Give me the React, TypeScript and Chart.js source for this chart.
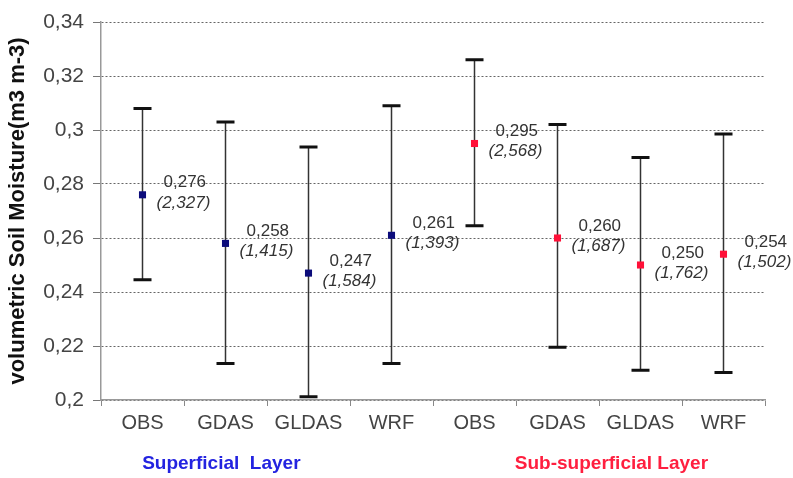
import React, { useEffect, useRef } from "react";
import { Chart, registerables } from "chart.js";

Chart.register(...registerables);

const categories = ["OBS", "GDAS", "GLDAS", "WRF", "OBS", "GDAS", "GLDAS", "WRF"];
const meanValues = [0.276, 0.258, 0.247, 0.261, 0.295, 0.26, 0.25, 0.254];
const upperValues = [0.308, 0.303, 0.2937, 0.309, 0.326, 0.302, 0.2898, 0.2985];
const lowerValues = [0.2445, 0.2135, 0.2012, 0.2135, 0.2645, 0.2195, 0.211, 0.2102];
const valueLabels = ["0,276", "0,258", "0,247", "0,261", "0,295", "0,260", "0,250", "0,254"];
const countLabels = ["(2,327)", "(1,415)", "(1,584)", "(1,393)", "(2,568)", "(1,687)", "(1,762)", "(1,502)"];
const layerOfCategory = [0, 0, 0, 0, 1, 1, 1, 1];
const layerNames = ["Superficial  Layer", "Sub-superficial Layer"];
const layerAnchor = [0.95, 5.65];
const layerColors = ["#2323e0", "#ff1f3f"];
const pointColors = ["#0b0b7a", "#ff1038"];
const yTickValues = [0.2, 0.22, 0.24, 0.26, 0.28, 0.3, 0.32, 0.34];
const yTitle = "volumetric Soil Moisture(m3 m-3)";

const FONT = "'Liberation Sans', Arial, sans-serif";

const fmtTick = (v: number) => String(Number(v.toFixed(2))).replace(".", ",");

const errorBarPlugin = {
  id: "errorBars",
  beforeDatasetsDraw(chart: any) {
    const { ctx, scales } = chart;
    const x = scales.x;
    const y = scales.y;
    ctx.save();
    categories.forEach((_, i) => {
      const px = x.getPixelForValue(i);
      const top = y.getPixelForValue(upperValues[i]);
      const bot = y.getPixelForValue(lowerValues[i]);
      ctx.strokeStyle = "#333";
      ctx.lineWidth = 1.5;
      ctx.beginPath();
      ctx.moveTo(px, top);
      ctx.lineTo(px, bot);
      ctx.stroke();
      ctx.strokeStyle = "#111";
      ctx.lineWidth = 3;
      ctx.beginPath();
      ctx.moveTo(px - 9, top);
      ctx.lineTo(px + 9, top);
      ctx.moveTo(px - 9, bot);
      ctx.lineTo(px + 9, bot);
      ctx.stroke();
    });
    ctx.restore();
  },
  afterDatasetsDraw(chart: any) {
    const { ctx, scales } = chart;
    const x = scales.x;
    const y = scales.y;
    ctx.save();
    ctx.textBaseline = "middle";
    ctx.textAlign = "left";
    categories.forEach((_, i) => {
      const px = x.getPixelForValue(i);
      const py = y.getPixelForValue(meanValues[i]);
      ctx.fillStyle = "#333";
      ctx.font = `17px ${FONT}`;
      ctx.fillText(valueLabels[i], px + 21, py - 12);
      ctx.font = `italic 17px ${FONT}`;
      ctx.fillText(countLabels[i], px + 14, py + 8);
    });
    ctx.restore();
  },
  afterDraw(chart: any) {
    const { ctx, scales, chartArea } = chart;
    const x = scales.x;
    ctx.save();
    ctx.textBaseline = "middle";
    ctx.textAlign = "center";
    ctx.font = `bold 19px ${FONT}`;
    layerNames.forEach((name, g) => {
      ctx.fillStyle = layerColors[g];
      ctx.fillText(name, x.getPixelForValue(layerAnchor[g]), chartArea.bottom + 64);
    });
    ctx.restore();
  },
};

export default function App() {
  const ref = useRef<HTMLCanvasElement>(null);
  useEffect(() => {
    document.body.style.margin = "0";
    if (!ref.current) return;
    const chart = new Chart(ref.current, {
      type: "line",
      data: {
        labels: categories,
        datasets: [
          {
            data: meanValues,
            showLine: false,
            pointStyle: "rect",
            pointRadius: 5,
            pointBorderWidth: 0,
            pointBackgroundColor: layerOfCategory.map((g) => pointColors[g]),
            pointBorderColor: layerOfCategory.map((g) => pointColors[g]),
          },
        ],
      },
      options: {
        responsive: false,
        animation: false,
        layout: { padding: { top: 22, right: 28, bottom: 0, left: 0 } },
        plugins: { legend: { display: false }, tooltip: { enabled: false } },
        scales: {
          x: {
            type: "category",
            offset: true,
            afterFit: (s: any) => {
              s.height = 78;
            },
            grid: {
              display: true,
              offset: true,
              drawOnChartArea: false,
              drawTicks: true,
              tickLength: 6,
              color: "#888",
            },
            border: { display: true, color: "#999", width: 1.5 },
            ticks: {
              color: "#444",
              font: { family: FONT, size: 20 },
              padding: 5,
              maxRotation: 0,
              autoSkip: false,
            },
          },
          y: {
            min: 0.2,
            max: 0.34,
            afterFit: (s: any) => {
              s.width = 101;
            },
            afterBuildTicks: (s: any) => {
              s.ticks = yTickValues.map((v) => ({ value: v }));
            },
            grid: {
              color: "#666",
              lineWidth: 1,
              tickLength: 8,
              tickColor: "#777",
            },
            border: { display: true, color: "#999", width: 1.5, dash: [2, 2] },
            ticks: {
              color: "#444",
              font: { family: FONT, size: 21 },
              padding: 9,
              callback: (v: any) => fmtTick(Number(v)),
            },
            title: {
              display: true,
              text: yTitle,
              color: "#111",
              font: { family: FONT, size: 22, weight: "bold" },
              padding: { top: 5, bottom: 0 },
            },
          },
        },
      },
      plugins: [errorBarPlugin],
    });
    return () => chart.destroy();
  }, []);
  return (
    <div style={{ width: 793, height: 478 }}>
      <canvas ref={ref} width={793} height={478} style={{ display: "block" }} />
    </div>
  );
}
